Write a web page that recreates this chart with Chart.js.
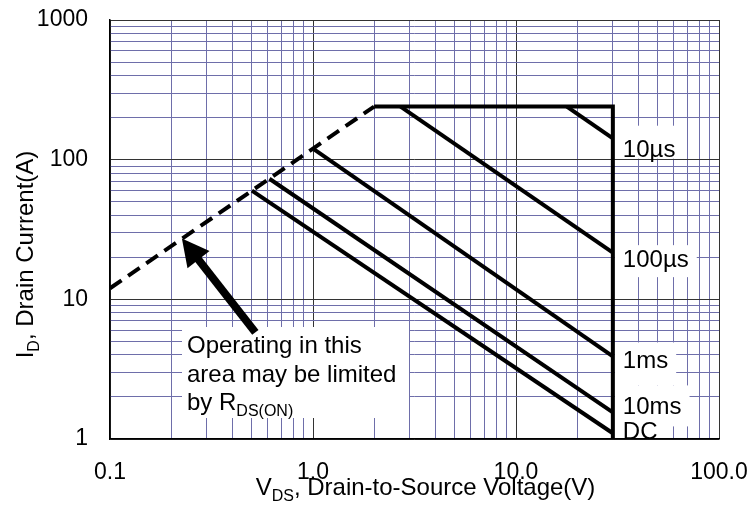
<!DOCTYPE html>
<html><head><meta charset="utf-8">
<script src="https://cdn.jsdelivr.net/npm/chart.js@4.4.1/dist/chart.umd.min.js"></script>
<style>html,body{margin:0;padding:0;background:#fff}#wrap{width:750px;height:508px;position:relative}</style>
</head><body><div id="wrap"><canvas id="c" width="750" height="508"></canvas></div>
<script>
// ---- data ----
const xDecades = [0.1, 1, 10, 100];
const xTickLabels = ['0.1', '1.0', '10.0', '100.0'];
const yDecades = [1, 10, 100, 1000];
const yTickLabels = ['1', '10', '100', '1000'];
const minorSteps = [2, 3, 4, 5, 6, 7, 8, 9];

const rdsLimitV = [0.1, 2];     const rdsLimitI = [12, 240];
const boundaryV = [2, 30, 30];  const boundaryI = [240, 240, 1];
const t10usV = [17.8, 30];      const t10usI = [240, 142];
const t100usV = [2.7, 30];      const t100usI = [240, 21.6];
const t1msV = [1.0, 30];        const t1msI = [120, 3.9];
const t10msV = [0.61, 30];      const t10msI = [73, 1.55];
const dcV = [0.5, 30];          const dcI = [60, 1.1];

const curveLabels = ['10µs', '100µs', '1ms', '10ms', 'DC'];
const curveLabelV = 30;
const curveLabelI = [105, 17, 3.2, 1.5, 1.0];
const arrowTip = [0.226, 27.3];
const arrowTail = [0.52, 5.8];
const noteLines = ['Operating in this', 'area may be limited', 'by R'];
const noteSub = 'DS(ON)';

// ---- helpers ----
const FONT = '"Liberation Sans", Arial, Helvetica, sans-serif';
function isDecade(v) { const l = Math.log10(v); return Math.abs(l - Math.round(l)) < 1e-6; }
function tickValues(decades) {
  const out = [];
  for (let i = 0; i < decades.length - 1; i++) {
    out.push(decades[i]);
    minorSteps.forEach(m => out.push(decades[i] * m));
  }
  out.push(decades[decades.length - 1]);
  return out;
}
function labelFor(v, decs, labels) {
  for (let i = 0; i < decs.length; i++) if (Math.abs(v - decs[i]) / decs[i] < 1e-6) return labels[i];
  return '';
}
function mk(vs, is, dash) {
  return { data: vs.map((v, i) => ({ x: v, y: is[i] })), showLine: true, borderColor: '#000',
    borderWidth: 4, borderDash: dash || [], pointRadius: 0, fill: false, tension: 0,
    borderCapStyle: 'butt', borderJoinStyle: 'miter' };
}
function noPad(s) { s.paddingTop = 0; s.paddingBottom = 0; s.paddingLeft = 0; s.paddingRight = 0; }

// label box offsets (px, relative to text baseline): [top, bottom]
const labelBoxes = [[-31, 2], [-22, 10], [-26, 17], [-29, 12], [-16, 0]];

const decor = {
  id: 'decor',
  beforeDatasetsDraw(chart) {
    const { ctx, chartArea: a, scales: { x, y } } = chart;
    ctx.save();
    ctx.fillStyle = '#fff';
    ctx.font = '24px ' + FONT;
    const lx = x.getPixelForValue(curveLabelV);
    curveLabels.forEach((t, i) => {
      const by = y.getPixelForValue(curveLabelI[i]);
      const w = ctx.measureText(t).width;
      const top = Math.max(a.top, by + labelBoxes[i][0]);
      const bot = Math.min(a.bottom - 1, by + labelBoxes[i][1]);
      ctx.fillRect(lx + 2, top, w + 16, bot - top);
    });
    // note box
    ctx.fillRect(a.left + 72, a.bottom - 112, 227, 91);
    ctx.restore();
  },
  afterDatasetsDraw(chart) {
    const { ctx, chartArea: a, scales: { x, y } } = chart;
    ctx.save();
    ctx.fillStyle = '#000';
    ctx.strokeStyle = '#000';
    ctx.font = '24px ' + FONT;
    ctx.textBaseline = 'alphabetic';
    ctx.textAlign = 'left';
    const lx = x.getPixelForValue(curveLabelV);
    curveLabels.forEach((t, i) => ctx.fillText(t, lx + 10, y.getPixelForValue(curveLabelI[i])));
    const nx = a.left + 77, nb = a.bottom - 86;
    noteLines.forEach((t, i) => ctx.fillText(t, nx, nb + i * 28.5));
    const wBy = ctx.measureText(noteLines[2]).width;
    ctx.font = '16px ' + FONT;
    ctx.fillText(noteSub, nx + wBy, nb + 2 * 28.5 + 6);
    // arrow
    const tx = x.getPixelForValue(arrowTip[0]), ty = y.getPixelForValue(arrowTip[1]);
    const sx = x.getPixelForValue(arrowTail[0]), sy = y.getPixelForValue(arrowTail[1]);
    const ang = Math.atan2(ty - sy, tx - sx);
    const hl = 27, hw = 14;
    const bx = tx - hl * Math.cos(ang), byy = ty - hl * Math.sin(ang);
    ctx.lineWidth = 8;
    ctx.lineCap = 'butt';
    ctx.beginPath(); ctx.moveTo(sx, sy); ctx.lineTo(bx + 2 * Math.cos(ang), byy + 2 * Math.sin(ang)); ctx.stroke();
    ctx.beginPath();
    ctx.moveTo(tx, ty);
    ctx.lineTo(bx + hw * Math.sin(ang), byy - hw * Math.cos(ang));
    ctx.lineTo(bx - hw * Math.sin(ang), byy + hw * Math.cos(ang));
    ctx.closePath(); ctx.fill();
    ctx.restore();
  },
  afterDraw(chart) {
    const { ctx, chartArea: a } = chart;
    ctx.save();
    ctx.fillStyle = '#000';
    ctx.textBaseline = 'alphabetic';
    ctx.textAlign = 'left';
    const main = '24px ' + FONT, sub = '16px ' + FONT;
    function parts(p) {
      let w = 0;
      p.forEach(q => { ctx.font = q[1] ? sub : main; q.w = ctx.measureText(q[0]).width; w += q.w; });
      return w;
    }
    function draw(p, x0, y0) {
      let xx = x0;
      p.forEach(q => { ctx.font = q[1] ? sub : main; ctx.fillText(q[0], xx, y0 + (q[1] ? 6 : 0)); xx += q.w; });
    }
    const xp = [['V', 0], ['DS', 1], [', Drain-to-Source Voltage(V)', 0]];
    const xw = parts(xp);
    draw(xp, (a.left + a.right) / 2 + 11 - xw / 2, a.bottom + 56);
    const yp = [['I', 0], ['D', 1], [', Drain Current(A)', 0]];
    const yw = parts(yp);
    ctx.translate(33, (a.top + a.bottom) / 2 + 25);
    ctx.rotate(-Math.PI / 2);
    draw(yp, -yw / 2, 0);
    ctx.restore();
  }
};

const gridColor = c => (c.tick && isDecade(c.tick.value)) ? '#333333' : '#6e6eaa';

new Chart(document.getElementById('c'), {
  type: 'scatter',
  data: { datasets: [
    mk(rdsLimitV, rdsLimitI, [14, 8]),
    mk(boundaryV, boundaryI),
    mk(t10usV, t10usI),
    mk(t100usV, t100usI),
    mk(t1msV, t1msI),
    mk(t10msV, t10msI),
    mk(dcV, dcI)
  ] },
  options: {
    responsive: false, animation: false, devicePixelRatio: 1,
    layout: { padding: { left: 0, right: 31, top: 20, bottom: 0 } },
    plugins: { legend: { display: false }, tooltip: { enabled: false } },
    scales: {
      x: {
        type: 'logarithmic', min: 0.1, max: 100, position: 'bottom',
        afterBuildTicks: s => { s.ticks = tickValues(xDecades).map(v => ({ value: v })); },
        afterFit: s => { s.height = 69; noPad(s); },
        grid: { color: gridColor, lineWidth: 1, drawTicks: false },
        border: { color: '#000', width: 1.5 },
        ticks: { autoSkip: false, maxRotation: 0, minRotation: 0, padding: 20, color: '#000',
          font: { family: FONT, size: 23 }, callback: v => labelFor(v, xDecades, xTickLabels) }
      },
      y: {
        type: 'logarithmic', min: 1, max: 1000, position: 'left',
        afterBuildTicks: s => { s.ticks = tickValues(yDecades).map(v => ({ value: v })); },
        afterFit: s => { s.width = 110; noPad(s); },
        grid: { color: gridColor, lineWidth: 1, drawTicks: false },
        border: { color: '#000', width: 1.5 },
        ticks: { autoSkip: false, padding: 22, color: '#000',
          font: { family: FONT, size: 23 }, callback: v => labelFor(v, yDecades, yTickLabels) }
      }
    }
  },
  plugins: [decor]
});
</script>
</body></html>
